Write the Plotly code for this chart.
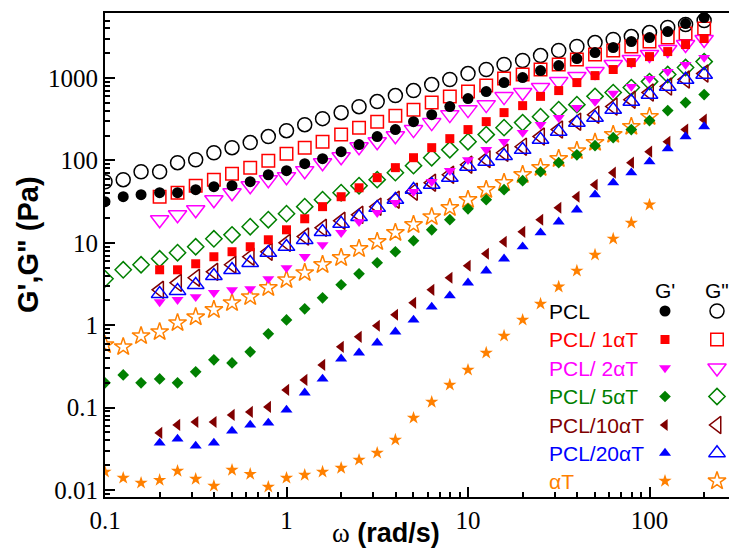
import plotly.graph_objects as go

# Angular frequency sweep (rad/s)
omega = [0.1, 0.126, 0.158, 0.2, 0.251, 0.316, 0.398, 0.501, 0.631, 0.794,
         1.0, 1.26, 1.58, 2.0, 2.51, 3.16, 3.98, 5.01, 6.31, 7.94,
         10.0, 12.6, 15.8, 20.0, 25.1, 31.6, 39.8, 50.1, 63.1, 79.4,
         100.0, 126.0, 158.0, 200.0]

# Storage modulus G' (Pa)
pcl_gp = [31.6, 36.3, 38.4, 40.6, 40.6, 44.2, 48.1, 49.4, 55.2, 67.1, 75.2, 91.4,
          105, 128, 156, 195, 237, 296, 360, 451, 564, 686, 882, 1014, 1234, 1419,
          1726, 2042, 2350, 2780, 3105, 3673, 4592, 5430]
a1_gp = [4.71, 4.71, 5.57, 6.78, 7.80, 8.97, 10.9, 14.4, 19.6, 27.5, 36.3, 46.6,
         61.8, 81.8, 108, 143, 184, 237, 296, 381, 463, 600, 705, 882, 1072, 1270,
         1543, 1824, 2098, 2553, 3020]
a2_gp = [1.92, 2.04, 2.21, 2.48, 2.69, 2.77, 3.66, 4.98, 6.78, 9.48, 13.3, 18.0,
         23.2, 30.7, 41.8, 55.2, 75.2, 102, 135, 169, 218, 272, 331, 438, 519, 653,
         788, 986, 1200, 1460, 1775]
a5_gp = [0.20, 0.249, 0.20, 0.223, 0.20, 0.272, 0.38, 0.349, 0.475, 0.787, 1.16,
         1.58, 2.15, 3.10, 4.21, 5.73, 7.80, 10.6, 14.4, 19.1, 25.9, 33.4, 44.2,
         56.9, 73, 94, 117, 151, 189, 237, 305, 403, 504, 631]
a10_gp = [0.0493, 0.0617, 0.067, 0.067, 0.0815, 0.0887, 0.102, 0.164, 0.217, 0.330,
          0.547, 0.723, 0.984, 1.34, 1.87, 2.69, 3.77, 5.27, 7.38, 10.3, 13.6, 19.1,
          26.7, 36.3, 50.8, 71.1, 94, 128, 169, 237, 313]
a20_gp = [0.0372, 0.0417, 0.0343, 0.0372, 0.0521, 0.0617, 0.0652, 0.0938, 0.151,
          0.223, 0.391, 0.462, 0.611, 0.832, 1.16, 1.67, 2.28, 3.27, 4.58, 6.41,
          8.97, 13.3, 18.0, 25.2, 38.4, 53.7, 71.1, 96.7, 139, 195, 258]
at_gp = [0.0166, 0.0140, 0.0122, 0.0132, 0.0170, 0.0136, 0.0112, 0.0175, 0.0156,
         0.0109, 0.0140, 0.0152, 0.0166, 0.0185, 0.0232, 0.0282, 0.0406, 0.075,
         0.117, 0.189, 0.287, 0.462, 0.743, 1.16, 1.82, 2.93, 4.58, 7.16, 11.2,
         17.5, 29.0]

# Loss modulus G'' (Pa)
pcl_gpp = [55.2, 58.5, 73, 73, 94, 102, 124, 143, 165, 195, 230, 272, 322, 380,
           450, 519, 613, 705, 834, 960, 1135, 1270, 1460, 1633, 1876, 2160, 2415,
           2700, 2940, 3190, 3570, 4110, 4470, 5000]
a1_gpp = [36.3, 40.6, 49.4, 58.5, 69.2, 81.8, 99.5, 121, 143, 169, 206, 250, 296,
          350, 414, 504, 596, 686, 811, 986, 1104, 1270, 1460, 1679, 1932, 2160,
          2415, 2780, 3105, 3473, 3993]
a2_gpp = [19.1, 21.9, 25.2, 33.4, 40.6, 49.4, 58.5, 63.6, 75.2, 94, 111, 147, 169,
          200, 237, 288, 360, 414, 476, 596, 667, 767, 906, 1043, 1200, 1460, 1679,
          1932, 2220, 2553, 2940]
a5_gpp = [3.66, 4.71, 5.42, 6.41, 7.59, 8.97, 11.2, 12.5, 15.7, 19.1, 22.6, 27.5,
          33.4, 40.6, 49.4, 58.5, 71.1, 86.5, 108, 135, 169, 206, 250, 288, 340,
          414, 476, 600, 667, 767, 906, 1104, 1343, 1585]
a10_gpp = [2.69, 3.27, 3.77, 4.45, 5.42, 6.78, 7.80, 10.0, 11.9, 15.2, 18.5, 21.9,
           27.5, 33.4, 41.8, 53.7, 67.1, 88.9, 104, 124, 147, 195, 237, 296, 360,
           451, 547, 667, 788, 960, 1135]
a20_gpp = [2.41, 2.62, 3.10, 3.98, 4.71, 5.73, 7.59, 8.97, 10.9, 13.6, 17.1, 20.7,
           26.7, 33.4, 44.2, 50.8, 61.8, 84.1, 96.7, 114, 135, 179, 224, 288, 331,
           414, 519, 631, 788, 960, 1104]
at_gpp = [0.578, 0.547, 0.743, 0.832, 1.07, 1.26, 1.54, 1.87, 2.21, 2.85, 3.56,
          4.33, 5.42, 6.59, 8.47, 10.3, 13.3, 16.6, 20.7, 26.7, 33.4, 44.2, 53.7,
          67.1, 81.8, 105, 131, 165, 206, 258, 340]

names = ["PCL", "PCL/ 1\u03b1T", "PCL/ 2\u03b1T", "PCL/ 5\u03b1T",
         "PCL/10\u03b1T", "PCL/20\u03b1T", "\u03b1T"]

y_ticks = [0.01, 0.1, 1, 10, 100, 1000]
y_labels = ["0.01", "0.1", "1", "10", "100", "1000"]
x_ticks = [0.1, 1, 10, 100]
x_labels = ["0.1", "1", "10", "100"]

SERIF = "Liberation Serif, Times New Roman, serif"
SANS = "Liberation Sans, Arial, sans-serif"

# (name, colour, omega slice, G', G'', filled symbol, size, open symbol, size)
series = [
    (names[0], "#000000", omega, pcl_gp, pcl_gpp, "circle", 11, "circle-open", 14),
    (names[1], "#FF0000", omega[3:], a1_gp, a1_gpp, "square", 9, "square-open", 12.5),
    (names[2], "#FF00FF", omega[3:], a2_gp, a2_gpp, "triangle-down", 10.5, "triangle-down-open", 16),
    (names[3], "#008000", omega, a5_gp, a5_gpp, "diamond", 9, "diamond-open", 12.5),
    (names[4], "#800000", omega[3:], a10_gp, a10_gpp, "triangle-left", 10.5, "triangle-left-open", 15),
    (names[5], "#0000FF", omega[3:], a20_gp, a20_gpp, "triangle-up", 10.5, "triangle-up-open", 14.5),
    (names[6], "#FF8000", omega[:31], at_gp, at_gpp, "star", 10, "star-open", 13.5),
]

fig = go.Figure()

# loss modulus (open symbols) first, storage modulus (filled) on top
for name, col, w, gp, gpp, fs, fsz, os_, osz in series:
    fig.add_trace(go.Scatter(
        x=w, y=gpp, mode="markers", showlegend=False,
        marker=dict(symbol=os_, size=osz, color=col,
                    line=dict(color=col, width=1.5))))
for name, col, w, gp, gpp, fs, fsz, os_, osz in series:
    fig.add_trace(go.Scatter(
        x=w, y=gp, mode="markers", showlegend=False,
        marker=dict(symbol=fs, size=fsz, color=col, line=dict(width=0))))

# hand-built key: series name, G' symbol, G'' symbol
PLOT_L, PLOT_W, PLOT_B, PLOT_H = 105, 624, 497, 484
def px_x(p):
    return (p - PLOT_L) / PLOT_W
def px_y(p):
    return (PLOT_B - p) / PLOT_H

row_px = [311, 339.5, 368, 396.5, 425, 453, 481]
col_gp, col_gpp, text_x, head_y = 665, 717, 547, 290

for (name, col, w, gp, gpp, fs, fsz, os_, osz), ry in zip(series, row_px):
    fig.add_trace(go.Scatter(
        x=[px_x(col_gp)], y=[px_y(ry)], xaxis="x2", yaxis="y2", mode="markers",
        showlegend=False, cliponaxis=False,
        marker=dict(symbol=fs, size=fsz, color=col, line=dict(width=0))))
    fig.add_trace(go.Scatter(
        x=[px_x(col_gpp)], y=[px_y(ry)], xaxis="x2", yaxis="y2", mode="markers",
        showlegend=False, cliponaxis=False,
        marker=dict(symbol=os_, size=osz, color=col,
                    line=dict(color=col, width=1.5))))
    fig.add_annotation(
        x=px_x(text_x), y=px_y(ry), xref="paper", yref="paper", text=name,
        showarrow=False, xanchor="left", yanchor="middle",
        font=dict(family=SANS, size=21, color=col))

for label, cx in (("G'", col_gp), ('G"', col_gpp)):
    fig.add_annotation(
        x=px_x(cx), y=px_y(head_y), xref="paper", yref="paper", text=label,
        showarrow=False, xanchor="center", yanchor="middle",
        font=dict(family=SANS, size=21, color="#000000"))

# axis titles
fig.add_annotation(
    x=px_x(386), y=px_y(533), xref="paper", yref="paper",
    text="<span style='font-family:Liberation Serif;font-weight:normal'>\u03c9</span> (rad/s)",
    showarrow=False, xanchor="center", yanchor="middle",
    font=dict(family=SANS, size=27, color="#000000", weight="bold"))
fig.add_annotation(
    x=px_x(28), y=px_y(245), xref="paper", yref="paper",
    text="G',G\" (Pa)", textangle=-90,
    showarrow=False, xanchor="center", yanchor="middle",
    font=dict(family=SANS, size=29, color="#000000", weight="bold"))

minor_x = [m * 10 ** e for e in (-1, 0, 1, 2) for m in range(2, 10)]
minor_y = [m * 10 ** e for e in (-3, -2, -1, 0, 1, 2, 3) for m in range(2, 10)]

fig.update_layout(
    width=729, height=548,
    margin=dict(l=105, r=0, t=13, b=51),
    paper_bgcolor="white", plot_bgcolor="white",
    showlegend=False,
    xaxis=dict(
        type="log", range=[-1, 2.438], showgrid=False, zeroline=False,
        showline=True, linecolor="black", linewidth=2, mirror=True,
        ticks="inside", ticklen=10, tickwidth=1.5, tickcolor="black",
        tickvals=x_ticks, ticktext=x_labels,
        tickfont=dict(family=SERIF, size=25, color="black"),
        minor=dict(tickvals=minor_x, ticks="inside", ticklen=5,
                   tickwidth=1.5, tickcolor="black", showgrid=False)),
    yaxis=dict(
        type="log", range=[-2.085, 3.79], showgrid=False, zeroline=False,
        showline=True, linecolor="black", linewidth=2, mirror=False,
        ticks="inside", ticklen=10, tickwidth=1.5, tickcolor="black",
        tickvals=y_ticks, ticktext=y_labels,
        tickfont=dict(family=SERIF, size=25, color="black"),
        minor=dict(tickvals=minor_y, ticks="inside", ticklen=5,
                   tickwidth=1.5, tickcolor="black", showgrid=False)),
    xaxis2=dict(overlaying="x", range=[0, 1], visible=False),
    yaxis2=dict(overlaying="y", range=[0, 1], visible=False),
)

fig.write_html("out.html")
